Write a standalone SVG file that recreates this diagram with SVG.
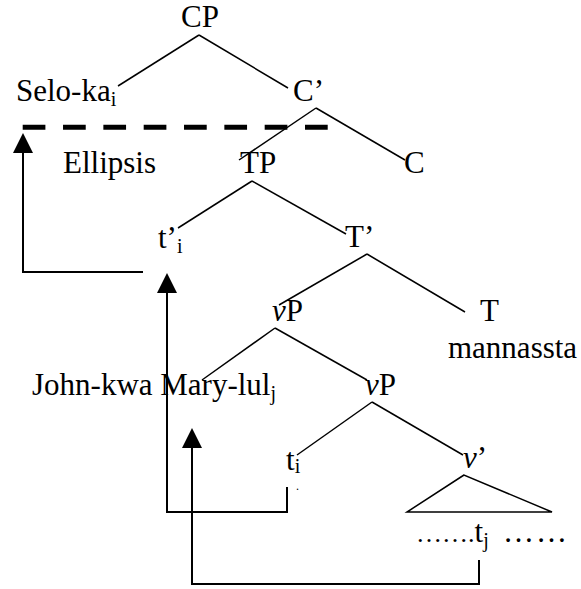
<svg xmlns="http://www.w3.org/2000/svg" width="581" height="589" viewBox="0 0 581 589">
<style>
  text { font-family: "Liberation Serif", "Times New Roman", serif; font-size: 31px; fill: #000; }
  .sub { font-size: 20px; }
  .it { font-style: italic; }
  .edge { stroke: #000; stroke-width: 1.5; fill: none; }
  .arrow { stroke: #000; stroke-width: 2; fill: none; marker-end: url(#ah); }
</style>
<defs>
  <marker id="ah" markerUnits="userSpaceOnUse" markerWidth="20" markerHeight="20" refX="0" refY="10" orient="auto" viewBox="0 0 20 20">
    <path d="M0,0 L20,10 L0,20 Z" fill="#000"/>
  </marker>
</defs>
<rect width="581" height="589" fill="#fff"/>

<g id="edges">
  <line class="edge" x1="199" y1="35" x2="118" y2="86"/>
  <line class="edge" x1="199" y1="35" x2="288" y2="88"/>
  <line class="edge" x1="316" y1="108" x2="239" y2="160"/>
  <line class="edge" x1="316" y1="108" x2="405" y2="160"/>
  <line class="edge" x1="252" y1="181" x2="178" y2="228"/>
  <line class="edge" x1="252" y1="181" x2="346" y2="234"/>
  <line class="edge" x1="367" y1="254" x2="279" y2="305"/>
  <line class="edge" x1="367" y1="254" x2="465" y2="312"/>
  <line class="edge" x1="275" y1="328" x2="202" y2="380"/>
  <line class="edge" x1="275" y1="328" x2="367" y2="380"/>
  <line class="edge" x1="372" y1="402" x2="297" y2="455"/>
  <line class="edge" x1="372" y1="402" x2="463" y2="455"/>
  <polygon class="edge" points="464,475 407,512 552,512"/>
  <line x1="22.7" y1="127.3" x2="328.3" y2="127.3" stroke="#000" stroke-width="5" stroke-dasharray="22.7 17.63"/>
  <path class="arrow" d="M143,272 H23 V153"/>
  <path class="arrow" d="M287,487 V512 H167 V293"/>
  <path class="arrow" d="M479,560 V584 H192 V448"/>
</g>

<g id="CP"><text x="181" y="27">CP</text></g>
<g id="Selo-ka"><text x="16" y="101">Selo-ka<tspan class="sub" dy="5">i</tspan></text></g>
<g id="Cbar"><text x="293" y="101">C’</text></g>
<g id="Ellipsis"><text x="63" y="173">Ellipsis</text></g>
<g id="TP"><text x="240" y="173">TP</text></g>
<g id="C"><text x="404" y="173">C</text></g>
<g id="t-prime"><text x="158" y="248">t’<tspan class="sub" dy="5">i</tspan></text></g>
<g id="Tbar"><text x="345" y="247">T’</text></g>
<g id="vP1"><text x="272" y="321"><tspan class="it">v</tspan>P</text></g>
<g id="T"><text x="480" y="321">T</text></g>
<g id="mannassta"><text x="448" y="358">mannassta</text></g>
<g id="John-Mary"><text x="32" y="395">John-kwa Mary-lul<tspan class="sub" dy="5">j</tspan></text></g>
<g id="vP2"><text x="365" y="395"><tspan class="it">v</tspan>P</text></g>
<g id="ti"><text x="286" y="470">t<tspan class="sub" dy="3">i</tspan></text><text x="296" y="490" style="font-size:12px">.</text></g>
<g id="vbar"><text x="463" y="468"><tspan class="it">v</tspan>’</text></g>
<g id="tj"><text x="416" y="542"><tspan style="font-size:26px">…….</tspan>t<tspan class="sub" dy="5">j</tspan></text><text x="503" y="542" textLength="64" lengthAdjust="spacing">……</text></g>
</svg>
